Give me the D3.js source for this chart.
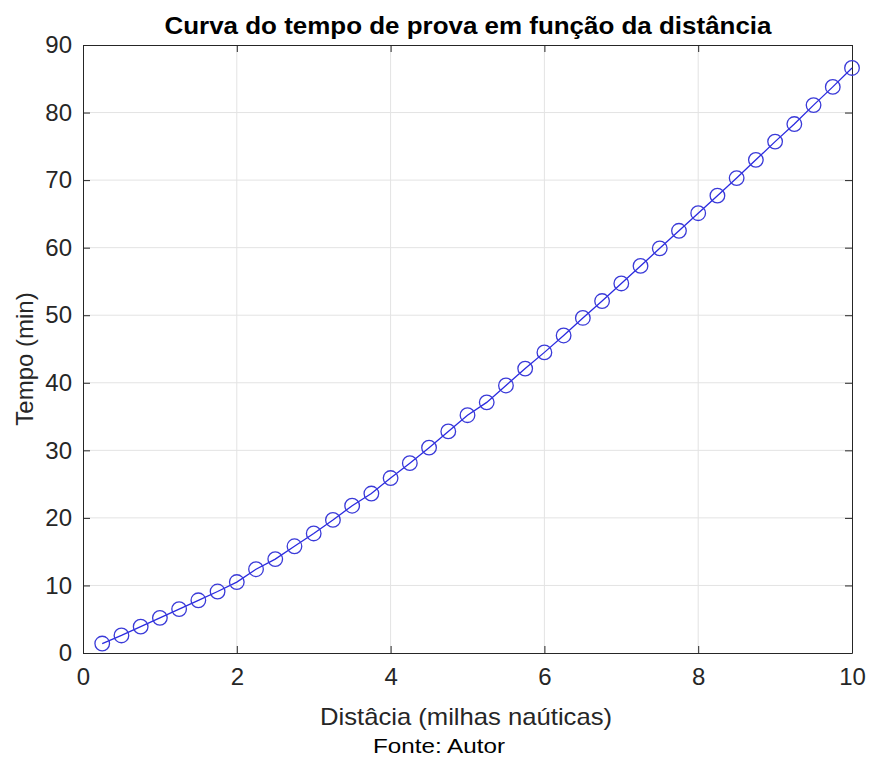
<!DOCTYPE html>
<html>
<head>
<meta charset="utf-8">
<script src="https://cdn.jsdelivr.net/npm/d3@7"></script>
<style>
  body { margin: 0; background: #fff; }
  text { font-family: "Liberation Sans", Arial, sans-serif; }
</style>
</head>
<body>
<div id="chart"></div>
<script>
// distance (nautical miles) and time (min)
const distancia = [0.25, 0.5, 0.75, 1, 1.25, 1.5, 1.75, 2, 2.25, 2.5, 2.75, 3, 3.25, 3.5, 3.75, 4,
  4.25, 4.5, 4.75, 5, 5.25, 5.5, 5.75, 6, 6.25, 6.5, 6.75, 7, 7.25, 7.5, 7.75, 8,
  8.25, 8.5, 8.75, 9, 9.25, 9.5, 9.75, 10];
const tempo = [1.4, 2.6, 3.9, 5.2, 6.5, 7.8, 9.1, 10.5, 12.4, 13.9, 15.8, 17.7, 19.7, 21.8, 23.6, 25.9,
  28.1, 30.4, 32.8, 35.2, 37.1, 39.6, 42.1, 44.5, 47.0, 49.6, 52.1, 54.7, 57.3, 59.9, 62.5, 65.1,
  67.7, 70.3, 73.0, 75.7, 78.3, 81.1, 83.8, 86.6];
const xTicks = [0, 2, 4, 6, 8, 10];
const yTicks = [0, 10, 20, 30, 40, 50, 60, 70, 80, 90];

const data = distancia.map((d, i) => ({x: d, y: tempo[i]}));

const width = 869, height = 760;
const margins = {top: 45, right: 17, bottom: 107, left: 83};

const svg = d3.select("#chart")
  .append("svg")
  .attr("width", width)
  .attr("height", height);

const xScale = d3.scaleLinear()
  .domain([0, 10])
  .range([margins.left, width - margins.right]);

const yScale = d3.scaleLinear()
  .domain([0, 90])
  .range([height - margins.bottom, margins.top]);

// grid
svg.append("g")
  .selectAll("line")
  .data(xTicks.slice(1, -1))
  .join("line")
    .attr("x1", d => xScale(d)).attr("x2", d => xScale(d))
    .attr("y1", yScale(0)).attr("y2", yScale(90))
    .style("stroke", "#e3e3e3").style("stroke-width", 1);

svg.append("g")
  .selectAll("line")
  .data(yTicks.slice(1, -1))
  .join("line")
    .attr("x1", xScale(0)).attr("x2", xScale(10))
    .attr("y1", d => yScale(d)).attr("y2", d => yScale(d))
    .style("stroke", "#e3e3e3").style("stroke-width", 1);

// axes (ticks inside, box on all sides)
const styleAxis = g => {
  g.select(".domain").style("stroke", "#262626");
  g.selectAll(".tick line").style("stroke", "#262626");
  g.selectAll(".tick text")
    .style("fill", "#262626")
    .style("font-size", "24px")
    .style("font-family", "'Liberation Sans', Arial, sans-serif");
};

svg.append("g")
  .attr("transform", `translate(0,${yScale(0)})`)
  .call(d3.axisBottom(xScale).tickValues(xTicks).tickSizeInner(-7).tickSizeOuter(0).tickPadding(15))
  .call(styleAxis);

svg.append("g")
  .attr("transform", `translate(0,${yScale(90)})`)
  .call(d3.axisTop(xScale).tickValues(xTicks).tickSizeInner(-7).tickSizeOuter(0).tickFormat(""))
  .call(styleAxis);

svg.append("g")
  .attr("transform", `translate(${xScale(0)},0)`)
  .call(d3.axisLeft(yScale).tickValues(yTicks).tickSizeInner(-7).tickSizeOuter(0).tickPadding(11))
  .call(styleAxis);

svg.append("g")
  .attr("transform", `translate(${xScale(10)},0)`)
  .call(d3.axisRight(yScale).tickValues(yTicks).tickSizeInner(-7).tickSizeOuter(0).tickFormat(""))
  .call(styleAxis);

// line + circle markers
const line = d3.line()
  .x(d => xScale(d.x))
  .y(d => yScale(d.y));

svg.append("path")
  .datum(data)
  .attr("d", line)
  .style("fill", "none")
  .style("stroke", "#2a2ae0")
  .style("stroke-width", 1.3);

svg.selectAll("circle.pt")
  .data(data)
  .join("circle")
    .attr("class", "pt")
    .attr("cx", d => xScale(d.x))
    .attr("cy", d => yScale(d.y))
    .attr("r", 7.3)
    .style("fill", "none")
    .style("stroke", "#3a3ad8")
    .style("stroke-width", 1.3);

// title
svg.append("text")
  .attr("x", 468)
  .attr("y", 34)
  .attr("text-anchor", "middle")
  .attr("textLength", 607)
  .attr("lengthAdjust", "spacingAndGlyphs")
  .style("font-size", "24px")
  .style("font-weight", "bold")
  .style("fill", "#000")
  .text("Curva do tempo de prova em função da distância");

// x label
svg.append("text")
  .attr("x", 466)
  .attr("y", 725)
  .attr("text-anchor", "middle")
  .attr("textLength", 292)
  .attr("lengthAdjust", "spacingAndGlyphs")
  .style("font-size", "24px")
  .style("fill", "#262626")
  .text("Distâcia (milhas naúticas)");

// y label
svg.append("text")
  .attr("transform", `translate(33,359) rotate(-90)`)
  .attr("text-anchor", "middle")
  .style("font-size", "24px")
  .style("fill", "#262626")
  .text("Tempo (min)");

// source
svg.append("text")
  .attr("x", 439)
  .attr("y", 753)
  .attr("text-anchor", "middle")
  .attr("textLength", 132)
  .attr("lengthAdjust", "spacingAndGlyphs")
  .style("font-size", "21px")
  .style("fill", "#000")
  .text("Fonte: Autor");
</script>
</body>
</html>
